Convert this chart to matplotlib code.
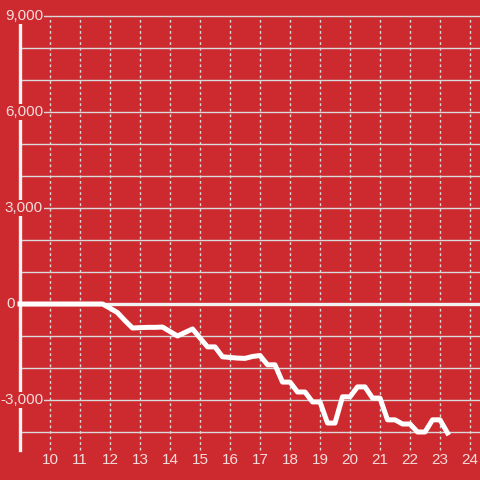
import matplotlib
matplotlib.use("Agg")
import matplotlib.pyplot as plt
import numpy as np

# hour of day vs cumulative value
hours = [9.0, 11.75, 12.0, 12.25, 12.5, 12.75, 13.0, 13.25, 13.5, 13.75, 14.0, 14.25, 14.5, 14.75,
         15.0, 15.25, 15.5, 15.75, 16.0, 16.25, 16.5, 16.75, 17.0, 17.25, 17.5, 17.75, 18.0,
         18.25, 18.5, 18.75, 19.0, 19.25, 19.5, 19.75, 20.0, 20.25, 20.5, 20.75, 21.0, 21.25,
         21.5, 21.75, 22.0, 22.25, 22.5, 22.75, 23.0, 23.25]
values = [0, 0, -130, -270, -520, -750, -740, -730, -730, -720, -860, -1000, -890, -780,
          -1060, -1340, -1340, -1650, -1670, -1690, -1700, -1640, -1610, -1900, -1900, -2440, -2440,
          -2750, -2750, -3060, -3060, -3720, -3720, -2900, -2900, -2590, -2590, -2940, -2940, -3620,
          -3620, -3750, -3750, -4000, -4000, -3620, -3620, -4030]

xTicks = list(range(10, 25))
yGrid = list(range(-4000, 10000, 1000))
yLabelled = [-3000, 0, 3000, 6000, 9000]

bgColor = "#cc2a2f"
gridColor = "#d9d9d9"
textColor = "#f5dcdc"
plt.rcParams["font.family"] = ["Liberation Sans", "DejaVu Sans"]

fig = plt.figure(figsize=(4.8, 4.8), dpi=100)
fig.patch.set_facecolor(bgColor)
ax = fig.add_axes([0, 0, 1, 1])
ax.set_facecolor(bgColor)
xMin, xMax = 9 - 2 / 3, 25 - 2 / 3
ax.set_xlim(xMin, xMax)
ax.set_ylim(-5500, 9500)
ax.axis("off")

yBottom = -4560
# horizontal grid
for y in yGrid:
    ax.plot([9, xMax], [y, y], color=gridColor, lw=1.0, zorder=1)
# vertical dashed grid
for x in xTicks:
    ax.plot([x, x], [yBottom, 9000], color=gridColor, lw=1.0, ls=(0, (2, 2)), zorder=1)

# zero line and left spine
ax.plot([9, xMax], [0, 0], color="#f2f2f2", lw=2.4, zorder=2)
ax.plot([9.0, 9.0], [yBottom, 9000], color="#f2f2f2", lw=2.4, zorder=2)

ax.plot(hours, values, color="white", lw=3.6, zorder=3)

for y in yLabelled:
    if y == 0:
        # the zero label sits left of the axis line
        ax.text(8.84, y, "0", ha="right", va="center", fontsize=11, color=textColor, zorder=4)
        continue
    ax.text(9.767, y, f"{y:,}", ha="right", va="center", fontsize=11, color=textColor, zorder=4,
            bbox=dict(facecolor=bgColor, edgecolor="none", pad=1.0))
for x in xTicks:
    ax.text(x, -4880, str(x), ha="center", va="center", fontsize=11, color=textColor, zorder=4)

fig.savefig("out.png", dpi=100, facecolor=bgColor)
